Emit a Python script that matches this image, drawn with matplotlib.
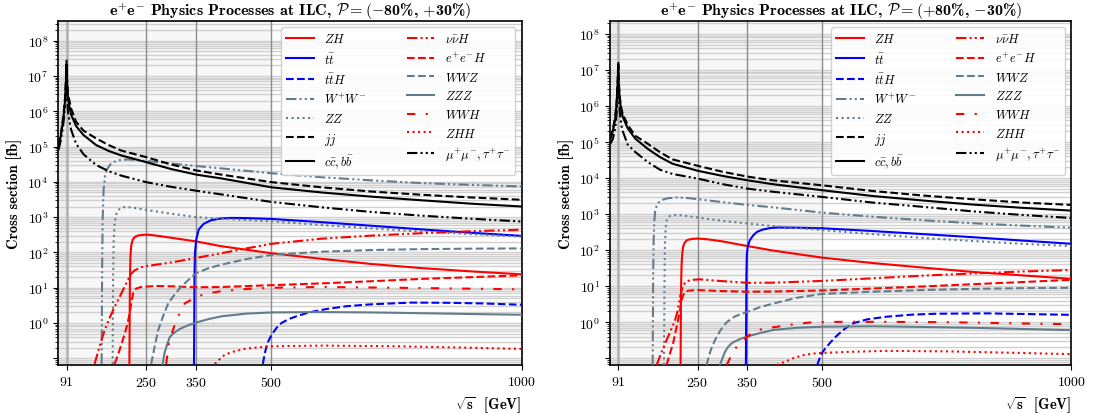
import numpy as np
import matplotlib
matplotlib.use("Agg")
import matplotlib.pyplot as plt

plt.rcParams.update({
    "font.family": "serif",
    "font.serif": ["cmr10"],
    "mathtext.fontset": "cm",
    "axes.formatter.use_mathtext": True,
    "axes.unicode_minus": False,
    "font.size": 10,
})

# ---- values (sqrt(s) in GeV, sigma in fb) ----
x_ff = [75, 80, 85, 88, 90, 91, 92, 94, 97, 100, 110, 125, 150, 175, 200,
        250, 300, 350, 400, 500, 600, 700, 800, 900, 1000]

# left panel: P = (-80%, +30%)
jj_l = [1.1e5, 2.5e5, 8e5, 2.5e6, 1e7, 2.7e7, 8e6, 3e6, 1.9e6, 1.2e6, 5e5, 2.8e5, 1.7e5, 1.1e5, 7.7e4,
        5.0e4, 3.1e4, 2.1e4, 1.6e4, 9.8e3, 7e3, 5.3e3, 4.3e3, 3.6e3, 3.1e3]
cc_l = [1e5, 2.2e5, 7e5, 2e6, 8e6, 2e7, 6e6, 2.3e6, 1.3e6, 8e5, 3.8e5, 2.1e5, 1.1e5, 7.5e4, 5.6e4,
        3.6e4, 2.3e4, 1.6e4, 1.25e4, 7e3, 5e3, 3.8e3, 3e3, 2.4e3, 2.0e3]
mm_l = [8e4, 1.6e5, 5e5, 1.5e6, 5e6, 8e6, 2.5e6, 9e5, 5e5, 3e5, 1.2e5, 6e4, 3e4, 2e4, 1.5e4,
        9.8e3, 7.2e3, 5.6e3, 4.4e3, 2.7e3, 1.9e3, 1.4e3, 1.1e3, 9e2, 7.5e2]

x_ww_l = [161, 161.5, 162, 163, 165, 168, 172, 180, 190, 200, 215, 250, 300, 350, 400, 500, 600, 700, 800, 900, 1000]
ww_l = [0.07, 1, 30, 800, 6e3, 1.5e4, 2.3e4, 3.3e4, 3.9e4, 4.2e4, 4.3e4, 3.9e4, 3.3e4, 2.8e4, 2.4e4,
        1.75e4, 1.35e4, 1.1e4, 9.2e3, 8.2e3, 7.4e3]
x_zz_l = [183, 183.5, 184, 185, 187, 190, 195, 200, 210, 230, 250, 300, 350, 400, 500, 600, 700, 800, 900, 1000]
zz_l = [0.07, 1, 20, 200, 700, 1200, 1600, 1850, 1950, 1800, 1600, 1250, 1000, 900, 760, 600, 480, 390, 330, 280]
x_tt_l = [345.5, 346, 346.5, 347.5, 350, 355, 365, 380, 400, 420, 450, 500, 600, 700, 800, 900, 1000]
tt_l = [0.07, 1, 20, 100, 230, 450, 650, 820, 920, 950, 940, 890, 720, 570, 450, 360, 295]
x_zh_l = [216.5, 217, 217.5, 218.5, 220, 223, 228, 235, 245, 255, 270, 300, 350, 400, 500, 600, 700, 800, 900, 1000]
zh_l = [0.07, 1, 15, 70, 150, 230, 280, 305, 316, 318, 300, 260, 205, 150, 95, 66, 47, 36, 29, 24]
x_nnh_l = [147, 157, 167, 177, 187, 197, 207, 214, 220, 227, 240, 250, 300, 350, 400, 450, 500, 600, 700, 800, 900, 1000]
nnh_l = [0.07, 0.22, 0.63, 1.4, 2.9, 5.5, 10.8, 17, 25, 31, 38, 41, 52, 70, 95, 130, 175, 245, 300, 350, 400, 440]
x_eeh_l = [187, 194, 201, 208, 213, 217, 220, 224, 230, 240, 267, 300, 350, 400, 500, 600, 700, 800, 900, 1000]
eeh_l = [0.07, 0.13, 0.26, 0.55, 1.0, 1.9, 3.5, 7, 9.5, 10.5, 11.2, 11, 10.3, 10.5, 11.8, 13.3, 15.3, 17.8, 20, 22.5]
x_wwz_l = [260, 267, 274, 284, 294, 307, 320, 335, 350, 375, 400, 450, 500, 600, 700, 800, 900, 1000]
wwz_l = [0.07, 0.22, 0.63, 1.6, 3.6, 6.5, 10.7, 17, 26, 36, 45, 65, 85, 105, 117, 124, 128, 130]
x_zzz_l = [283, 287, 292, 297, 305, 317, 335, 350, 375, 400, 450, 500, 600, 700, 800, 900, 1000]
zzz_l = [0.07, 0.15, 0.25, 0.4, 0.52, 0.68, 0.88, 1.04, 1.3, 1.55, 1.85, 2.0, 2.05, 2.0, 1.9, 1.8, 1.72]
x_tth_l = [483, 487, 492, 500, 510, 520, 535, 550, 575, 610, 650, 700, 780, 850, 920, 1000]
tth_l = [0.07, 0.14, 0.27, 0.45, 0.72, 1.0, 1.3, 1.55, 2.0, 2.5, 3.0, 3.4, 3.8, 3.75, 3.6, 3.3]
x_wwh_l = [290, 295, 300, 310, 327, 350, 370, 400, 450, 500, 600, 750, 900, 1000]
wwh_l = [0.07, 0.25, 0.45, 1.2, 3.6, 5.5, 6.8, 8.0, 9.2, 10, 10.5, 10, 9.4, 9.0]
x_zhh_l = [387, 395, 405, 420, 450, 500, 600, 750, 900, 1000]
zhh_l = [0.07, 0.09, 0.12, 0.15, 0.19, 0.22, 0.23, 0.22, 0.2, 0.185]

# right panel: P = (+80%, -30%)
jj_r = [1.3e5, 2.2e5, 5e5, 1.5e6, 6e6, 1.7e7, 5e6, 1.8e6, 9e5, 6e5, 3e5, 1.5e5, 9e4, 5.2e4, 3.3e4,
        2.2e4, 1.5e4, 1.1e4, 8.7e3, 6.3e3, 4.4e3, 3.3e3, 2.6e3, 2.1e3, 1.8e3]
cc_r = [1.2e5, 2e5, 4.5e5, 1.3e6, 5e6, 1.4e7, 4e6, 1.5e6, 7.5e5, 5e5, 2.4e5, 1.25e5, 6.5e4, 3.8e4, 2.5e4,
        1.6e4, 1.15e4, 8.7e3, 6.8e3, 4.6e3, 3.2e3, 2.4e3, 1.85e3, 1.5e3, 1.25e3]
mm_r = [9e4, 1.2e5, 2.5e5, 7e5, 3e6, 6e6, 2.2e6, 7e5, 3e5, 2e5, 8.5e4, 5.3e4, 2.8e4, 1.7e4, 1.3e4,
        9.7e3, 6.8e3, 5.1e3, 4.2e3, 3.0e3, 2.1e3, 1.6e3, 1.2e3, 9.5e2, 7.8e2]

x_ww_r = [160, 160.5, 161, 162, 163.5, 165, 168, 172, 180, 190, 208, 230, 250, 300, 350, 400, 500, 600, 700, 800, 900, 1000]
ww_r = [0.065, 1, 20, 200, 700, 1200, 1700, 2100, 2500, 2750, 2900, 2800, 2600, 2150, 1800, 1550, 1100,
        850, 680, 560, 480, 420]
x_zz_r = [182.7, 183.2, 183.7, 184.5, 186, 188, 191, 196, 205, 215, 250, 300, 350, 400, 500, 600, 700, 800, 900, 1000]
zz_r = [0.065, 1, 15, 120, 400, 650, 830, 900, 940, 930, 810, 650, 550, 470, 360, 280, 220, 180, 150, 130]
x_tt_r = [347, 347.5, 348, 349, 351, 355, 362, 369, 380, 395, 410, 450, 500, 600, 700, 800, 900, 1000]
tt_r = [0.065, 1, 20, 80, 130, 190, 260, 320, 370, 410, 425, 420, 405, 340, 280, 230, 185, 150]
x_zh_r = [216, 216.5, 217, 218, 219.5, 221, 224, 229, 238, 250, 270, 300, 350, 400, 500, 600, 700, 800, 900, 1000]
zh_r = [0.065, 1, 10, 40, 85, 123, 160, 190, 205, 210, 200, 175, 130, 98, 62, 44, 33, 25, 20, 16]
x_nnh_r = [168, 178, 188, 197, 205, 210, 215, 218, 221.5, 226, 231, 240, 255, 280, 300, 350, 400, 500,
           600, 700, 800, 900, 1000]
nnh_r = [0.065, 0.15, 0.32, 0.62, 1.15, 2.0, 5.1, 7.5, 10.7, 12.8, 14, 15, 15.5, 14.5, 13.8, 12.4, 12.5,
         14, 16.5, 19.5, 22.5, 25.5, 28]
x_eeh_r = [188, 195, 201, 206, 211, 215, 218, 221, 225, 232, 248, 300, 350, 400, 500, 600, 700, 800, 900, 1000]
eeh_r = [0.065, 0.14, 0.26, 0.55, 1.15, 2.2, 4.1, 5.6, 7.0, 7.5, 7.8, 7.3, 7.0, 7.1, 7.6, 8.6, 9.8, 11.3, 13, 15]
x_wwz_r = [268, 276, 285, 296, 308.5, 325, 350, 375, 402, 450, 500, 600, 700, 800, 900, 1000]
wwz_r = [0.065, 0.16, 0.32, 0.6, 1.0, 1.45, 1.95, 2.6, 3.3, 4.8, 6.1, 7.0, 7.8, 8.4, 8.8, 9.0]
x_zzz_r = [295, 300, 305, 311.7, 320, 335, 350, 375, 402, 450, 500, 600, 700, 800, 900, 1000]
zzz_r = [0.065, 0.1, 0.15, 0.21, 0.27, 0.34, 0.4, 0.5, 0.61, 0.7, 0.75, 0.77, 0.74, 0.7, 0.65, 0.6]
x_tth_r = [490, 495, 501, 508, 515, 525, 536, 548, 562, 590, 629, 680, 730, 830, 946, 1000]
tth_r = [0.065, 0.1, 0.15, 0.2, 0.26, 0.37, 0.51, 0.7, 0.93, 1.2, 1.42, 1.62, 1.72, 1.76, 1.65, 1.6]
x_wwh_r = [308.5, 315, 322, 328.5, 342, 355, 369, 395, 422, 450, 482, 550, 650, 750, 850, 950, 1000]
wwh_r = [0.065, 0.1, 0.15, 0.21, 0.32, 0.45, 0.6, 0.7, 0.79, 0.9, 1.0, 1.03, 1.02, 1.0, 0.95, 0.9, 0.88]
x_zhh_r = [409, 420, 430, 442, 460, 482, 500, 550, 629, 750, 850, 946, 1000]
zhh_r = [0.065, 0.075, 0.085, 0.1, 0.12, 0.135, 0.14, 0.15, 0.16, 0.155, 0.145, 0.135, 0.13]

labels = [r"$ZH$", r"$t\bar{t}$", r"$t\bar{t}H$", r"$W^{+}W^{-}$", r"$ZZ$", r"$jj$", r"$c\bar{c}, b\bar{b}$",
          r"$\nu\bar{\nu}H$", r"$e^{+}e^{-}H$", r"$WWZ$", r"$ZZZ$", r"$WWH$", r"$ZHH$",
          r"$\mu^{+}\mu^{-}, \tau^{+}\tau^{-}$"]

grey = "#637c8c"
dashdotdot = (0, (5, 1.5, 1, 1.5, 1, 1.5))
styles = [("red", "-"), ("blue", "-"), ("blue", "--"), (grey, dashdotdot), (grey, ":"), ("k", "--"), ("k", "-"),
          ("red", dashdotdot), ("red", "--"), (grey, "--"), (grey, "-"), ("red", (0, (4, 5, 1, 5))),
          ("red", ":"), ("k", dashdotdot)]

curves_l = [(x_zh_l, zh_l), (x_tt_l, tt_l), (x_tth_l, tth_l), (x_ww_l, ww_l), (x_zz_l, zz_l), (x_ff, jj_l),
            (x_ff, cc_l), (x_nnh_l, nnh_l), (x_eeh_l, eeh_l), (x_wwz_l, wwz_l), (x_zzz_l, zzz_l),
            (x_wwh_l, wwh_l), (x_zhh_l, zhh_l), (x_ff, mm_l)]
curves_r = [(x_zh_r, zh_r), (x_tt_r, tt_r), (x_tth_r, tth_r), (x_ww_r, ww_r), (x_zz_r, zz_r), (x_ff, jj_r),
            (x_ff, cc_r), (x_nnh_r, nnh_r), (x_eeh_r, eeh_r), (x_wwz_r, wwz_r), (x_zzz_r, zzz_r),
            (x_wwh_r, wwh_r), (x_zhh_r, zhh_r), (x_ff, mm_r)]

energies = [91, 250, 350, 500, 1000]


def draw(ax, curves, pol, ytop):
    ax.set_axisbelow(True)
    ax.axvspan(60, 500, color="#f7f7f7", zorder=0.1)
    ax.axvspan(60, 91, color="#ececec", zorder=0.1)
    for (x, y), lab, (c, ls) in zip(curves, labels, styles):
        ax.plot(x, y, color=c, ls=ls, lw=1.5, label=lab, zorder=3)
    ax.set_yscale("log")
    ax.set_xlim(74.5, 1000)
    ax.set_ylim(0.065, ytop)
    ax.set_yticks([10.0 ** k for k in range(-1, 9)])
    ax.set_yticklabels([""] + [r"$10^{%d}$" % k for k in range(0, 9)])
    ax.yaxis.set_minor_locator(matplotlib.ticker.LogLocator(subs=np.arange(2, 10), numticks=20))
    ax.yaxis.set_minor_formatter(matplotlib.ticker.NullFormatter())
    ax.grid(True, which="both", axis="y", color="#d0d0d0", lw=1.0)
    ax.set_xticks(energies)
    for e in energies[:-1]:
        ax.axvline(e, color="#b0b0b0" if e == 91 else "#8c8c8c", lw=1.8 if e == 91 else 1.0, zorder=1)
    ax.set_title(r"e$^{+}$e$^{-}$ Physics Processes at ILC, $\mathcal{P} = $" + pol, fontfamily="cmb10",
                 fontsize=11.5, pad=4)
    ax.set_ylabel("Cross section [fb]", fontfamily="cmb10", fontsize=10.5)
    ax.set_xlabel(r"$\sqrt{\mathbf{s}}$  [GeV]", fontfamily="cmb10", fontsize=10.5, loc="right")
    ax.legend(ncol=2, loc="upper right", fontsize=9, handlelength=2.2, handletextpad=0.85,
              columnspacing=3.2, labelspacing=0.45, borderpad=0.4, framealpha=0.9, edgecolor="#cccccc")
    for s in ax.spines.values():
        s.set_linewidth(1.2)


fig = plt.figure(figsize=(10.96, 4.14), dpi=100)
ax1 = fig.add_axes([0.0532, 0.116, 0.4228, 0.831])
ax2 = fig.add_axes([0.5566, 0.116, 0.421, 0.831])
draw(ax1, curves_l, r"$(-$80%, $+$30%$)$", 3.6e8)
draw(ax2, curves_r, r"$(+$80%, $-$30%$)$", 2.3e8)
fig.savefig("out.png", dpi=100)
